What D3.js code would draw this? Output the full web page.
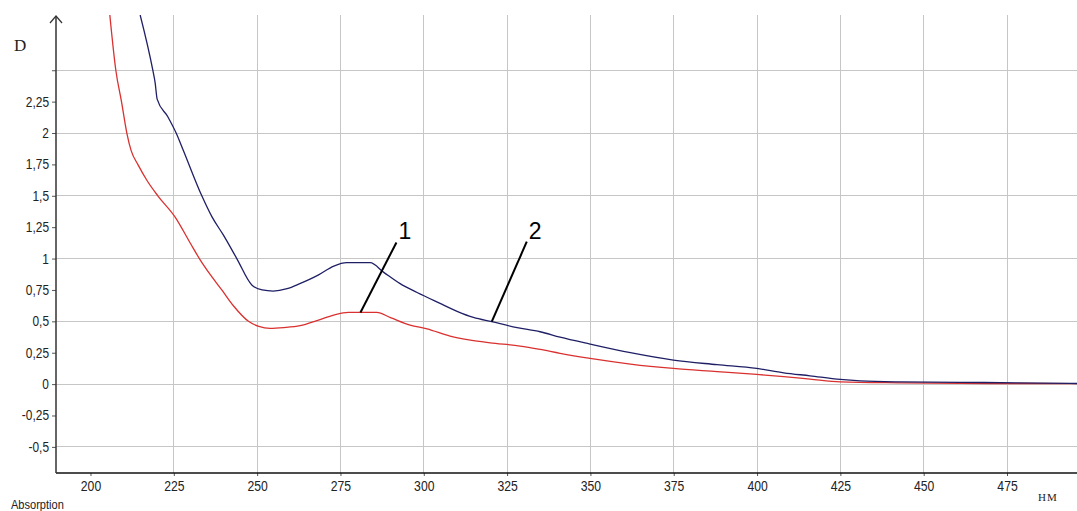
<!DOCTYPE html>
<html>
<head>
<meta charset="utf-8">
<script src="https://cdn.jsdelivr.net/npm/d3@7"></script>
<style>
  html, body { margin: 0; padding: 0; background: #fff; }
  svg { display: block; }
  .tick-label { font-family: "Liberation Sans", Arial, sans-serif; font-size: 14px; fill: #222; }
</style>
</head>
<body>
<svg id="chart" width="1077" height="511"></svg>
<script>
// Absorption spectra, wavelength in nm vs optical density D
const wavelength1 = [205.8, 207.6, 209.3, 210.9, 212.2, 214.2, 217, 220.2, 225.4, 230, 232.9, 236, 239.4, 243, 247.4, 250.5, 253.9, 258, 262.9, 268.4, 273, 277.4, 285.9, 290, 295.9, 301, 307.9, 314, 319.9, 328.9, 334.9, 340.9, 349.9, 362, 374.9, 388, 399.9, 408, 415.9, 425, 443, 470, 496];
const absorbance1 = [2.94, 2.5, 2.25, 2.0, 1.86, 1.75, 1.62, 1.5, 1.33, 1.12, 0.99, 0.87, 0.75, 0.62, 0.5, 0.46, 0.444, 0.45, 0.465, 0.51, 0.55, 0.571, 0.571, 0.53, 0.47, 0.44, 0.382, 0.35, 0.329, 0.303, 0.276, 0.245, 0.205, 0.16, 0.125, 0.1, 0.077, 0.06, 0.04, 0.018, 0.01, 0.005, 0.004];

const wavelength2 = [214.9, 218.7, 219.4, 220.0, 223.2, 225.7, 227.8, 233.4, 236.5, 239.8, 243.9, 248.4, 251.5, 254.8, 259, 262.8, 268.3, 273, 276.9, 283.9, 288, 292.9, 298, 304.9, 310, 314.9, 320.4, 328, 334.9, 340.9, 349.9, 362, 374.9, 388, 399.9, 408, 415.9, 425, 431, 443, 468, 496];
const absorbance2 = [2.94, 2.5, 2.4, 2.27, 2.13, 2.0, 1.865, 1.5, 1.33, 1.19, 1.0, 0.79, 0.75, 0.741, 0.76, 0.8, 0.868, 0.94, 0.967, 0.967, 0.89, 0.8, 0.73, 0.643, 0.58, 0.531, 0.497, 0.45, 0.417, 0.374, 0.319, 0.25, 0.191, 0.155, 0.125, 0.09, 0.066, 0.037, 0.026, 0.018, 0.013, 0.005];

const xTicks = [200, 225, 250, 275, 300, 325, 350, 375, 400, 425, 450, 475];
const xGrid = [225, 250, 275, 300, 325, 350, 375, 400, 425, 450, 475];
const yTicks = [2.5, 2.25, 2, 1.75, 1.5, 1.25, 1, 0.75, 0.5, 0.25, 0, -0.25, -0.5];
const yTickLabels = ["", "2,25", "2", "1,75", "1,5", "1,25", "1", "0,75", "0,5", "0,25", "0", "-0,25", "-0,5"];
const yGrid = [2.5, 2, 1.5, 1, 0.5, 0, -0.5];

// Curve callouts: label text and the wavelength where the leader line touches its curve
const calloutLabels = ["1", "2"];
const calloutWavelengths = [281, 320.4];

const svg = d3.select("#chart");
const plotLeft = 56, plotRight = 1077, plotTop = 15, plotBottom = 473;

const x = d3.scaleLinear().domain([189.65, 496]).range([plotLeft, plotRight]);
const y = d3.scaleLinear().domain([-0.708, 2.94]).range([plotBottom, plotTop]);

// squeeze a text element horizontally to get a narrow face
function narrow(sel, k) {
  sel.each(function () {
    const w = this.getComputedTextLength();
    if (w > 0) d3.select(this).attr("textLength", w * k).attr("lengthAdjust", "spacingAndGlyphs");
  });
}

// grid
svg.append("g").selectAll("line").data(xGrid).join("line")
  .attr("x1", d => x(d)).attr("x2", d => x(d))
  .attr("y1", plotTop).attr("y2", plotBottom)
  .attr("stroke", "#c6c6c6").attr("stroke-width", 1).attr("shape-rendering", "crispEdges");
svg.append("g").selectAll("line").data(yGrid).join("line")
  .attr("x1", plotLeft).attr("x2", plotRight)
  .attr("y1", d => y(d)).attr("y2", d => y(d))
  .attr("stroke", "#c6c6c6").attr("stroke-width", 1).attr("shape-rendering", "crispEdges");

// x axis
const xAxis = d3.axisBottom(x).tickValues(xTicks).tickSize(3).tickPadding(5).tickFormat(d3.format("d"));
const gx = svg.append("g").attr("transform", `translate(0,${plotBottom})`).call(xAxis);
gx.select(".domain").remove();
gx.selectAll(".tick line").attr("stroke", "#555");
gx.selectAll(".tick text").attr("class", "tick-label").attr("font-family", null).attr("font-size", null).attr("fill", null);
narrow(gx.selectAll(".tick text"), 0.87);
svg.append("line").attr("x1", plotLeft).attr("x2", plotRight).attr("y1", plotBottom).attr("y2", plotBottom)
  .attr("stroke", "#111").attr("stroke-width", 1.5);

// y axis
const yAxis = d3.axisLeft(y).tickValues(yTicks).tickSize(4).tickPadding(3)
  .tickFormat((d, i) => yTickLabels[i]);
const gy = svg.append("g").attr("transform", `translate(${plotLeft},0)`).call(yAxis);
gy.select(".domain").remove();
gy.selectAll(".tick line").attr("stroke", "#555");
gy.selectAll(".tick text").attr("class", "tick-label").attr("font-family", null).attr("font-size", null).attr("fill", null);
narrow(gy.selectAll(".tick text"), 0.85);
svg.append("line").attr("x1", plotLeft).attr("x2", plotLeft).attr("y1", plotTop + 1).attr("y2", plotBottom)
  .attr("stroke", "#333").attr("stroke-width", 1.5);
svg.append("path")
  .attr("d", `M${plotLeft - 6},${plotTop + 8} L${plotLeft},${plotTop + 1} L${plotLeft + 6},${plotTop + 8}`)
  .attr("fill", "none").attr("stroke", "#333").attr("stroke-width", 1.2);

// axis titles
svg.append("text").attr("x", 14).attr("y", 51).text("D")
  .attr("font-family", "Liberation Serif, serif").attr("font-size", 17).attr("fill", "#222");
svg.append("text").attr("x", 1038).attr("y", 501).text("HM")
  .attr("font-family", "Liberation Serif, serif").attr("font-size", 11).attr("letter-spacing", 1).attr("fill", "#222");
svg.append("text").attr("x", 11).attr("y", 509).text("Absorption")
  .attr("font-family", "Liberation Sans, Arial, sans-serif").attr("font-size", 13).attr("fill", "#222")
  .call(narrow, 0.85);

// spectra
svg.append("defs").append("clipPath").attr("id", "plot-clip")
  .append("rect").attr("x", plotLeft).attr("y", plotTop).attr("width", plotRight - plotLeft).attr("height", plotBottom - plotTop);

const line = d3.line().x(d => x(d[0])).y(d => y(d[1])).curve(d3.curveMonotoneX);
const series1 = wavelength1.map((w, i) => [w, absorbance1[i]]);
const series2 = wavelength2.map((w, i) => [w, absorbance2[i]]);

const curves = svg.append("g").attr("clip-path", "url(#plot-clip)");
curves.append("path").datum(series1).attr("d", line)
  .attr("fill", "none").attr("stroke", "#d9312f").attr("stroke-width", 1.3);
curves.append("path").datum(series2).attr("d", line)
  .attr("fill", "none").attr("stroke", "#1f1f66").attr("stroke-width", 1.3);

// callouts with leader lines touching the curves
function valueAt(ws, vs, w) {
  const i = d3.bisectLeft(ws, w);
  if (i <= 0) return vs[0];
  if (i >= ws.length) return vs[vs.length - 1];
  const t = (w - ws[i - 1]) / (ws[i] - ws[i - 1]);
  return vs[i - 1] + t * (vs[i] - vs[i - 1]);
}
const calloutTargets = [
  [calloutWavelengths[0], valueAt(wavelength1, absorbance1, calloutWavelengths[0])],
  [calloutWavelengths[1], valueAt(wavelength2, absorbance2, calloutWavelengths[1])]
];
const leaderDx = [36, 35];
const leaderDy = [70, 80];
calloutTargets.forEach((p, i) => {
  const px = x(p[0]), py = y(p[1]);
  const sx = px + leaderDx[i], sy = py - leaderDy[i];
  svg.append("line").attr("x1", sx).attr("y1", sy).attr("x2", px).attr("y2", py)
    .attr("stroke", "#000").attr("stroke-width", 2);
  svg.append("text").attr("x", sx + 8.5).attr("y", sy - 3).attr("text-anchor", "middle")
    .attr("font-family", "Liberation Sans, sans-serif").attr("font-size", 23).attr("fill", "#000")
    .text(calloutLabels[i]);
});
</script>
</body>
</html>
